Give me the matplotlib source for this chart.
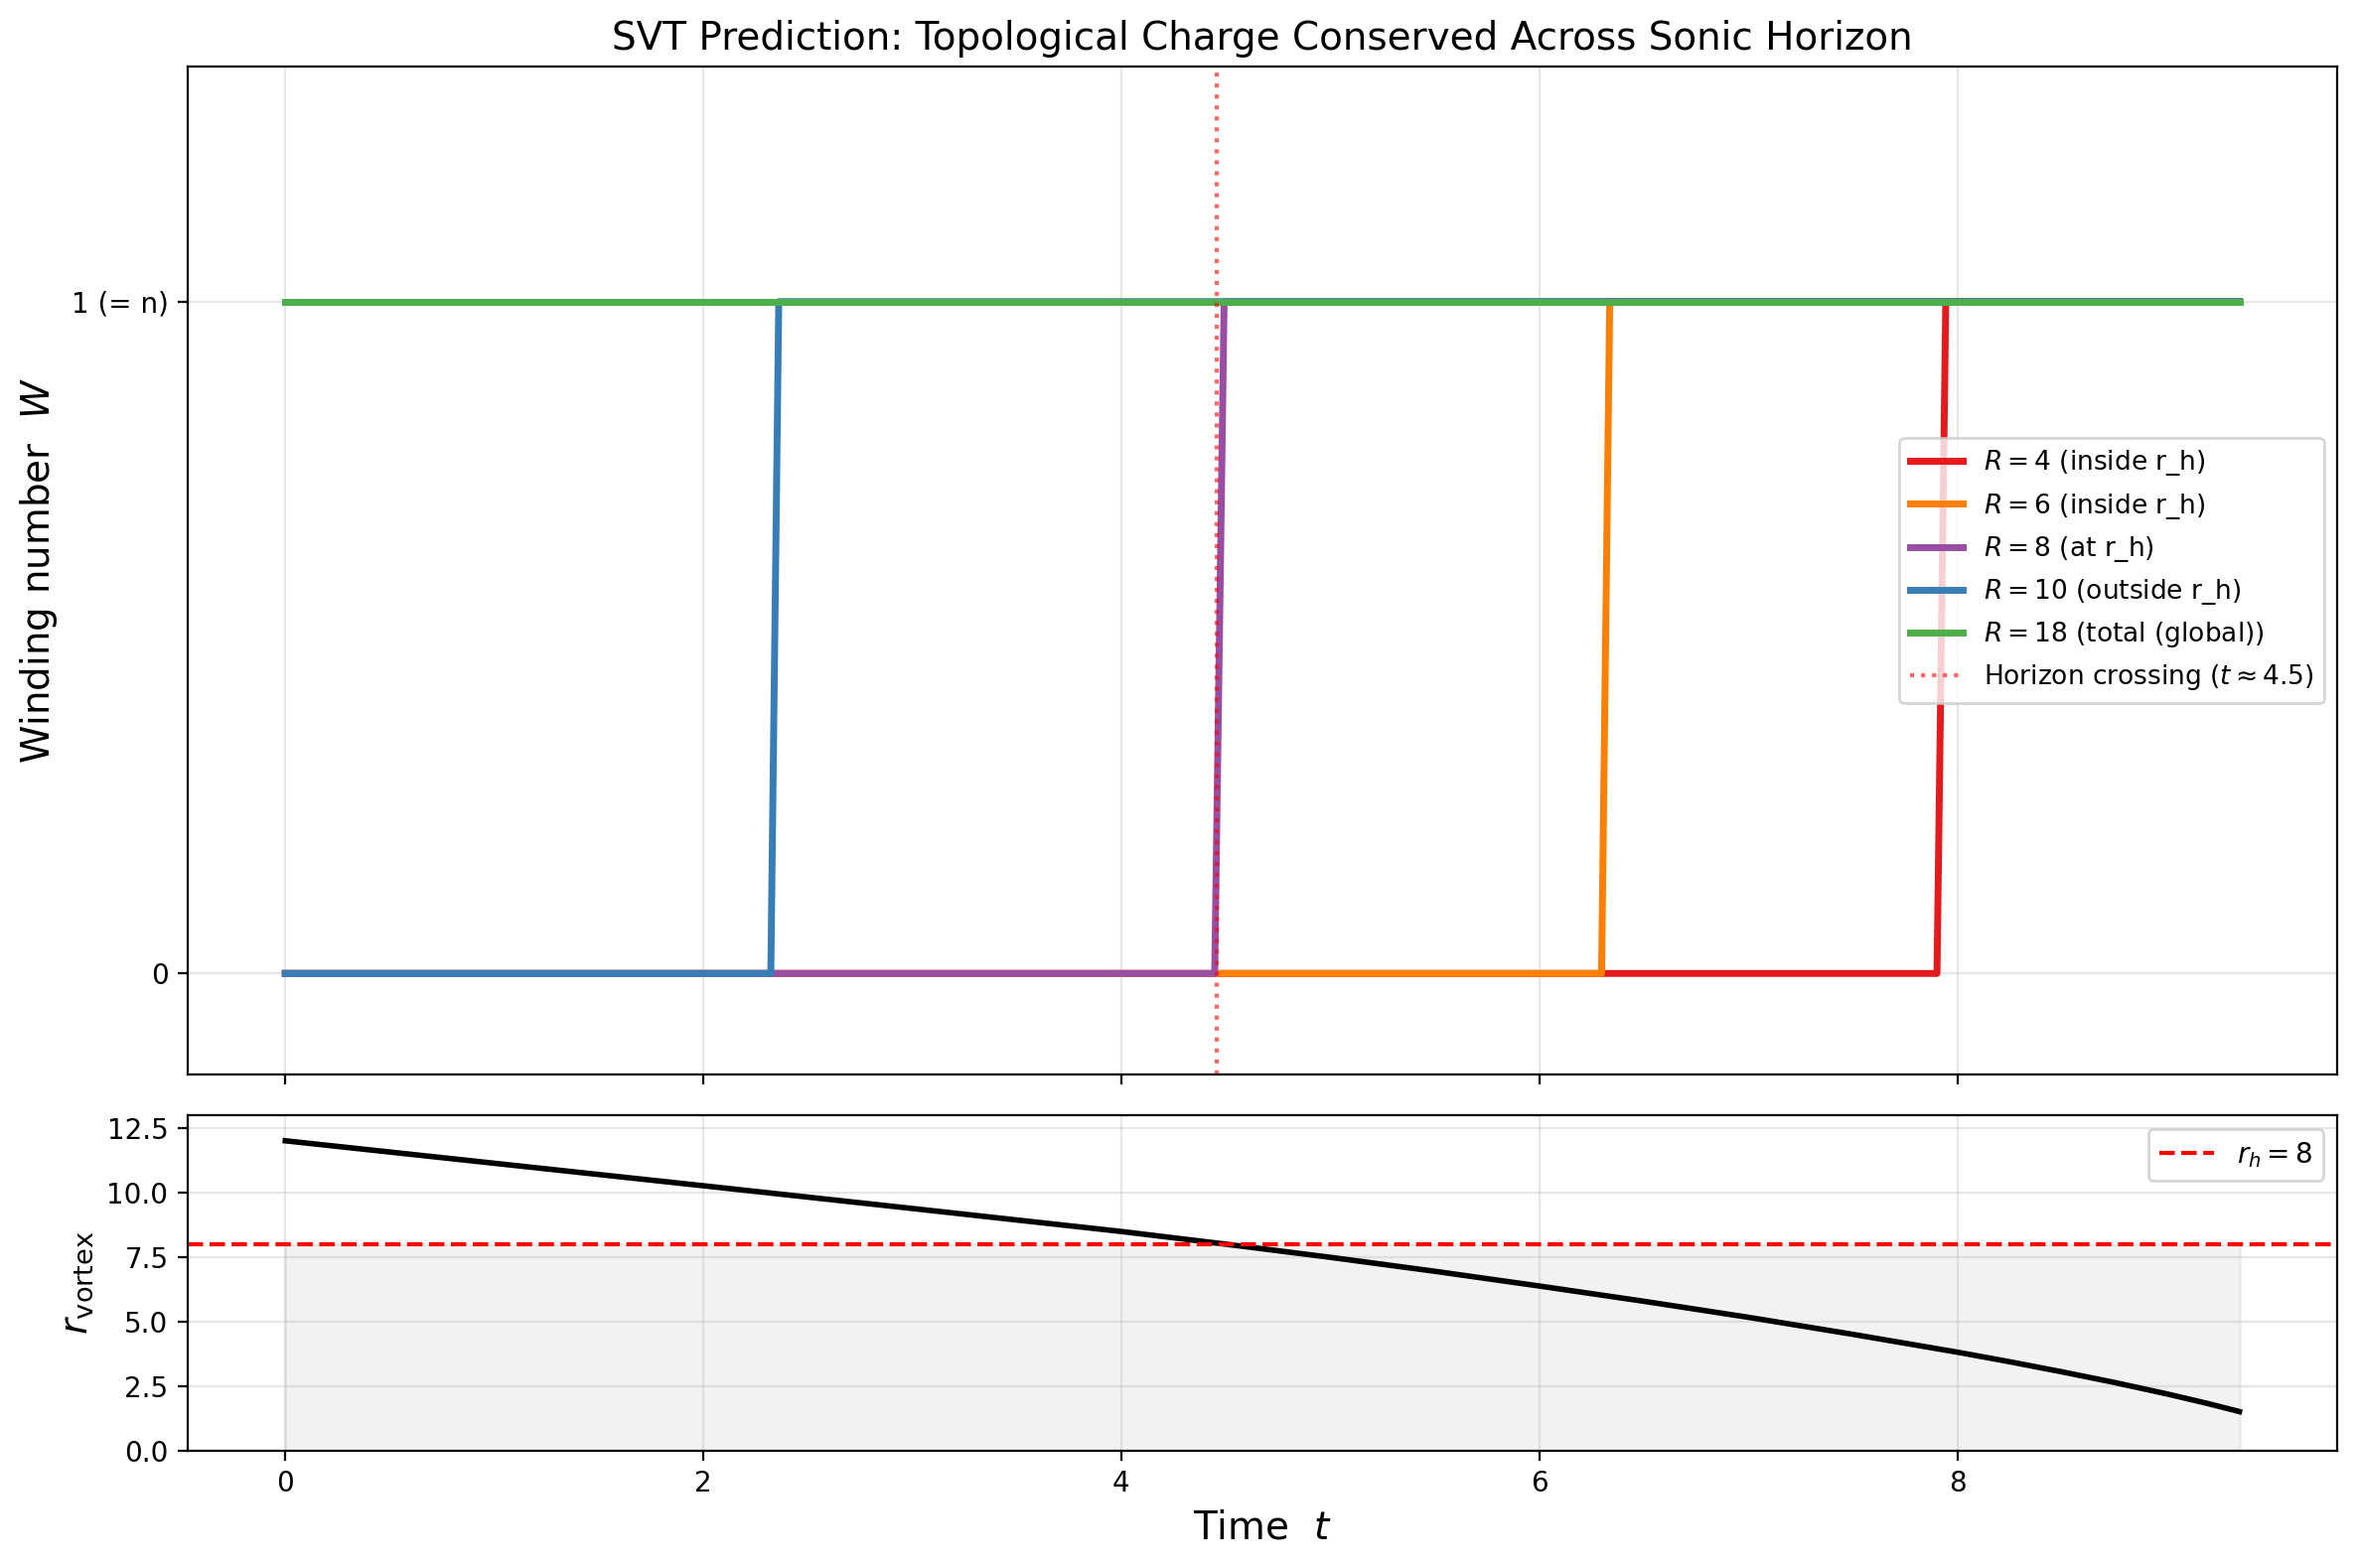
import matplotlib
matplotlib.use("Agg")
import matplotlib.pyplot as plt

# step data for winding number W(t) at each radius R
t_end = 9.35
labels = ["$R = 4$ (inside r_h)", "$R = 6$ (inside r_h)", "$R = 8$ (at r_h)",
          "$R = 10$ (outside r_h)", "$R = 18$ (total (global))"]
colors = ["#e41a1c", "#ff7f00", "#984ea3", "#377eb8", "#4daf4a"]
t_R4 = [0.0, 7.903, 7.945, t_end]
w_R4 = [0, 0, 1, 1]
t_R6 = [0.0, 6.298, 6.337, t_end]
w_R6 = [0, 0, 1, 1]
t_R8 = [0.0, 4.447, 4.492, t_end]
w_R8 = [0, 0, 1, 1]
t_R10 = [0.0, 2.323, 2.361, t_end]
w_R10 = [0, 0, 1, 1]
t_R18 = [0.0, t_end]
w_R18 = [1, 1]
t_cross = 4.455

# vortex radius vs time
t_vort = [0.0, 1.0, 2.0, 3.0, 4.0, 4.5, 5.0, 5.5, 6.0, 6.5, 7.0, 7.5, 8.0,
          8.25, 8.5, 8.75, 9.0, 9.2, 9.35]
r_vort = [12.0, 11.13, 10.26, 9.38, 8.49, 8.0, 7.49, 6.95, 6.38, 5.79, 5.17,
          4.51, 3.82, 3.45, 3.06, 2.65, 2.21, 1.83, 1.52]
r_h = 8

fig, (ax1, ax2) = plt.subplots(2, 1, figsize=(11.88, 7.895), dpi=200, sharex=True,
                               gridspec_kw={"height_ratios": [3, 1]})
fig.subplots_adjust(left=0.0795, right=0.9903, top=0.9576, bottom=0.0747, hspace=0.0606)

series = [(t_R4, w_R4), (t_R6, w_R6), (t_R8, w_R8), (t_R10, w_R10), (t_R18, w_R18)]
for (tt, ww), lab, c in zip(series, labels, colors):
    ax1.plot(tt, ww, color=c, lw=2.5, label=lab)
ax1.axvline(t_cross, color="red", ls=":", lw=1.5, alpha=0.6,
            label=r"Horizon crossing ($t \approx 4.5$)")
ax1.set_ylim(-0.15, 1.35)
ax1.set_yticks([0, 1])
ax1.set_yticklabels(["0", "1 (= n)"])
ax1.set_ylabel("Winding number  $W$", fontsize=14)
ax1.set_title("SVT Prediction: Topological Charge Conserved Across Sonic Horizon", fontsize=14)
ax1.legend(loc="center right", fontsize=9.5)
ax1.grid(True, alpha=0.3)

ax2.plot(t_vort, r_vort, color="black", lw=2)
ax2.axhline(r_h, color="red", ls="--", lw=1.5, label=r"$r_h = 8$")
ax2.fill_between(t_vort, 0, r_h, color="gray", alpha=0.1)
ax2.set_ylim(0, 13)
ax2.set_ylabel(r"$r_{\rm vortex}$", fontsize=14)
ax2.set_xlabel("Time  $t$", fontsize=14)
ax2.legend(loc="upper right", fontsize=10)
ax2.grid(True, alpha=0.3)

fig.savefig("out.png", dpi=200)
